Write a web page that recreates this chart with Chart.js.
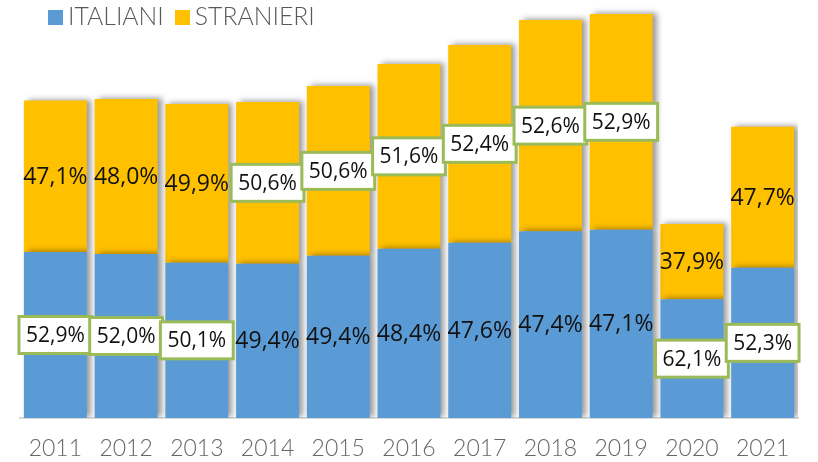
<!DOCTYPE html>
<html><head><meta charset="utf-8">
<script src="https://cdn.jsdelivr.net/npm/chart.js@4"></script>
<style>
html,body{margin:0;padding:0;background:#fff;}
#wrap{position:relative;width:818px;height:462px;}
#legend{position:absolute;left:48px;top:2px;font-family:Lato, "Open Sans", sans-serif;font-weight:300;font-size:24.8px;line-height:28.8px;color:#595959;white-space:nowrap;}
#legend .item{display:inline-block;margin-right:11px;}
#legend .sw{display:inline-block;width:15px;height:15px;margin-right:5px;vertical-align:baseline;}
canvas{position:absolute;left:0;top:0;}
</style></head>
<body>
<div id="wrap">
<canvas id="c" width="818" height="462"></canvas>
<div id="legend"></div>
</div>
<script>
// Data (bar heights in arbitrary units, no y-axis shown)
const categories = ['2011','2012','2013','2014','2015','2016','2017','2018','2019','2020','2021'];
const italiani  = [166, 164, 155.3, 154.3, 162.3, 169.3, 175.3, 186.7, 188.3, 118.7, 150.3];
const stranieri = [151.5, 155, 158.7, 161.7, 169.7, 184.7, 197.7, 211.3, 215.7, 75.3, 141];
// Percentage labels printed on the bars
const pctItaliani  = [52.9, 52.0, 50.1, 49.4, 49.4, 48.4, 47.6, 47.4, 47.1, 62.1, 52.3];
const pctStranieri = [47.1, 48.0, 49.9, 50.6, 50.6, 51.6, 52.4, 52.6, 52.9, 37.9, 47.7];
const seriesNames = ['ITALIANI', 'STRANIERI'];
const seriesColors = ['#5B9BD5', '#FFC000'];

const fmt = v => v.toFixed(1).replace('.', ',') + '%';

const shadowPlugin = {
  id: 'barShadow',
  beforeDatasetDraw(chart) {
    const c = chart.ctx;
    c.save();
    c.shadowColor = 'rgba(0,0,0,0.4)';
    c.shadowOffsetX = 4;
    c.shadowOffsetY = -1;
    c.shadowBlur = 6;
  },
  afterDatasetDraw(chart) { chart.ctx.restore(); }
};

const labelPlugin = {
  id: 'pctLabels',
  afterDatasetsDraw(chart) {
    const ctx = chart.ctx;
    [pctItaliani, pctStranieri].forEach((arr, di) => {
      const meta = chart.getDatasetMeta(di);
      meta.data.forEach((el, i) => {
        const v = arr[i];
        const txt = fmt(v);
        const x = el.x, y = (el.y + el.base) / 2;
        ctx.save();
        if (v > 50) {
          ctx.font = '21px "Open Sans"';
          const w = ctx.measureText(txt).width + 14, h = 37;
          ctx.fillStyle = '#ffffff';
          ctx.fillRect(x - w / 2, y - h / 2, w, h);
          ctx.strokeStyle = '#9BBB59';
          ctx.lineWidth = 3;
          ctx.strokeRect(x - w / 2, y - h / 2, w, h);
        } else {
          ctx.font = '23px "Open Sans"';
        }
        ctx.fillStyle = '#111';
        ctx.textAlign = 'center';
        ctx.textBaseline = 'middle';
        ctx.fillText(txt, x, y + 1);
        ctx.restore();
      });
    });
  }
};

const chart = new Chart(document.getElementById('c'), {
  type: 'bar',
  data: {
    labels: categories,
    datasets: [
      { label: seriesNames[0], data: italiani, backgroundColor: seriesColors[0], barPercentage: 0.89, categoryPercentage: 1 },
      { label: seriesNames[1], data: stranieri, backgroundColor: seriesColors[1], barPercentage: 0.89, categoryPercentage: 1 }
    ]
  },
  options: {
    responsive: false,
    animation: false,
    layout: { padding: { left: 20, right: 20, top: 0, bottom: 0 } },
    plugins: { legend: { display: false }, tooltip: { enabled: false } },
    scales: {
      x: {
        stacked: true,
        grid: { display: false, drawTicks: false },
        border: { display: true, color: '#d9d9d9', width: 2 },
        ticks: { color: '#666666', font: { family: 'Lato', size: 23, weight: '300' }, padding: 17 },
        afterFit(s) { s.height = 44; }
      },
      y: { stacked: true, display: false, min: 0, max: 418 }
    }
  },
  plugins: [shadowPlugin, labelPlugin]
});

// HTML legend built from the series
const lg = document.getElementById('legend');
seriesNames.forEach((n, i) => {
  const it = document.createElement('span');
  it.className = 'item';
  const sw = document.createElement('span');
  sw.className = 'sw';
  sw.style.background = seriesColors[i];
  it.appendChild(sw);
  it.appendChild(document.createTextNode(n));
  lg.appendChild(it);
});
</script>
</body></html>
